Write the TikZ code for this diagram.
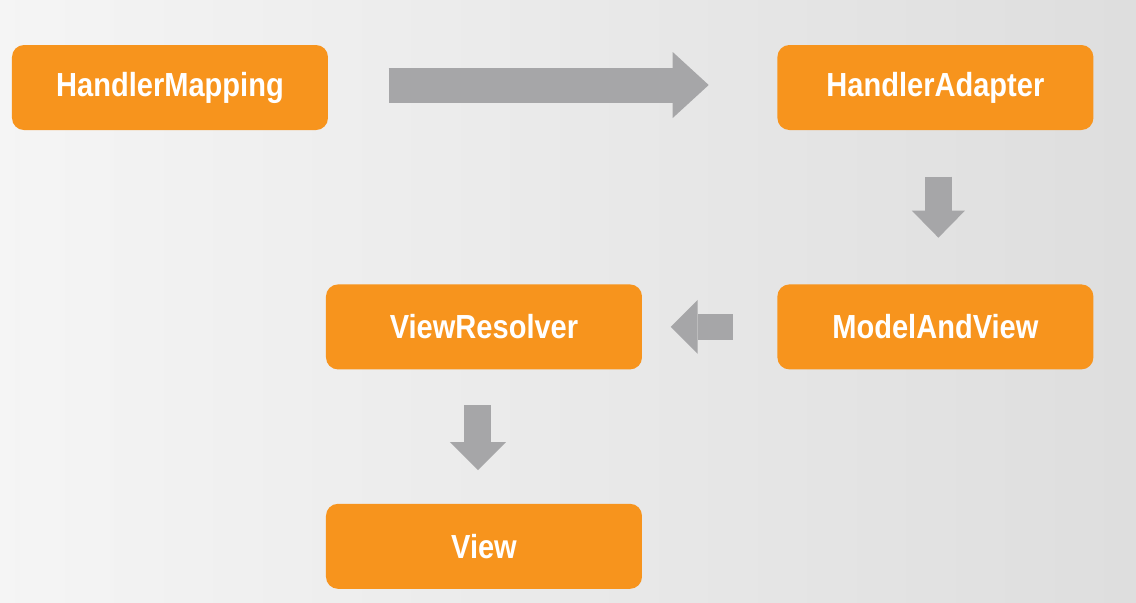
\documentclass[tikz,border=0pt]{standalone}
\usepackage{fontspec}
\setmainfont{Liberation Sans}[FakeStretch=0.87]
\usetikzlibrary{arrows.meta,positioning}
\definecolor{springorange}{HTML}{F7941D}
\definecolor{arrowgray}{HTML}{A6A6A8}

\begin{document}
\begin{tikzpicture} [
		block/.style = { rectangle, fill=springorange, rounded corners=0.12cm,
			minimum width=3.16cm, minimum height=0.85cm, inner sep=0pt,
			text=white, font=\fontsize{9.5}{11}\selectfont\bfseries },
		link/.style  = { draw=arrowgray, line cap=butt },
	]
	% background
	\shade [left color=gray!8, right color=gray!26] (0,0) rectangle (11.36,6.02);
	\useasboundingbox (0,0) rectangle (11.36,6.02);
	% Define nodes
	\begin{scope}
		\node [block] (mapping) at (1.70,5.145) {HandlerMapping};
		\node [block, right=4.48cm of mapping] (adapter) {HandlerAdapter};
		\node [block, below=1.53cm of adapter] (mav) {ModelAndView};
		\node [block, left=1.34cm of mav] (resolver) {ViewResolver};
		\node [block, below=1.33cm of resolver] (view) {View};
	\end{scope}
	% connect all nodes defined above
	\begin{scope} [every path/.style=link]
		\path [line width=0.35cm, -{Triangle[length=0.36cm,width=0.66cm,line width=0pt]},
			shorten <=0.6cm, shorten >=0.68cm] ([yshift=0.025cm]mapping.east) -- ([yshift=0.025cm]adapter.west);
		\path [line width=0.27cm, -{Triangle[length=0.27cm,width=0.53cm,line width=0pt]},
			shorten <=0.46cm, shorten >=0.46cm] ([xshift=0.03cm]adapter.south) -- ([xshift=0.03cm]mav.north);
		\path [line width=0.26cm, -{Triangle[length=0.27cm,width=0.54cm,line width=0pt]},
			shorten <=0.44cm, shorten >=0.28cm] (mav.west) -- (resolver.east);
		\path [line width=0.27cm, -{Triangle[length=0.28cm,width=0.56cm,line width=0pt]},
			shorten <=0.35cm, shorten >=0.33cm] ([xshift=-0.06cm]resolver.south) -- ([xshift=-0.06cm]view.north);
	\end{scope}
\end{tikzpicture}
\end{document}
